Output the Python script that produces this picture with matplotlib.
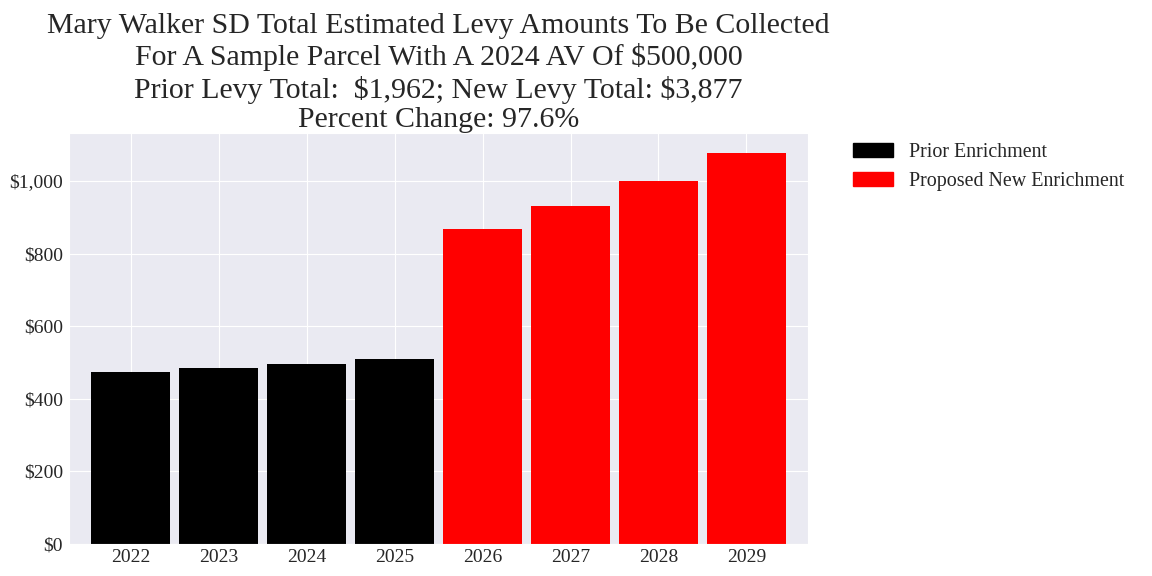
import matplotlib
matplotlib.use('Agg')
import matplotlib.pyplot as plt
import matplotlib.ticker as mtick
from matplotlib.patches import Patch
import seaborn as sns

years = ['2022', '2023', '2024', '2025', '2026', '2027', '2028', '2029']
levy = [473, 484, 496, 509, 868, 931, 1000, 1078]
bar_colors = ['black'] * 4 + ['red'] * 4
legend_labels = ['Prior Enrichment', 'Proposed New Enrichment']

prior_total = sum(levy[:4])
new_total = sum(levy[4:])
pct = (new_total - prior_total) / prior_total * 100

sns.set_style('darkgrid')
plt.rcParams['font.family'] = ['Liberation Serif', 'DejaVu Serif']

fig = plt.figure(figsize=(11.52, 5.76), dpi=100)
ax = fig.add_axes([0.06, 0.0556, 0.6414, 0.7135])

x = range(len(years))
ax.bar(x, levy, width=0.9, color=bar_colors, linewidth=0)
ax.set_xticks(list(x))
ax.set_xticklabels(years)
ax.set_xlim(-0.7, 7.7)
ax.yaxis.set_major_formatter(mtick.StrMethodFormatter(r'\${x:,.0f}'))
ax.tick_params(axis='both', labelsize=14, pad=1)
ax.tick_params(axis='x', pad=0)

# dollar signs escaped so mathtext stays off
title = ('Mary Walker SD Total Estimated Levy Amounts To Be Collected\n'
         'For A Sample Parcel With A 2024 AV Of \\$500,000\n'
         f'Prior Levy Total:  \\${prior_total:,}; New Levy Total: \\${new_total:,}\n'
         f'Percent Change: {pct:.1f}%')
ax.set_title(title, fontsize=21.5, linespacing=1.19, pad=4)

handles = [Patch(color='black'), Patch(color='red')]
fig.legend(handles, legend_labels, loc='upper left', bbox_to_anchor=(0.725, 0.783),
           frameon=False, fontsize=14.4)

fig.savefig('out.png', dpi=100)
